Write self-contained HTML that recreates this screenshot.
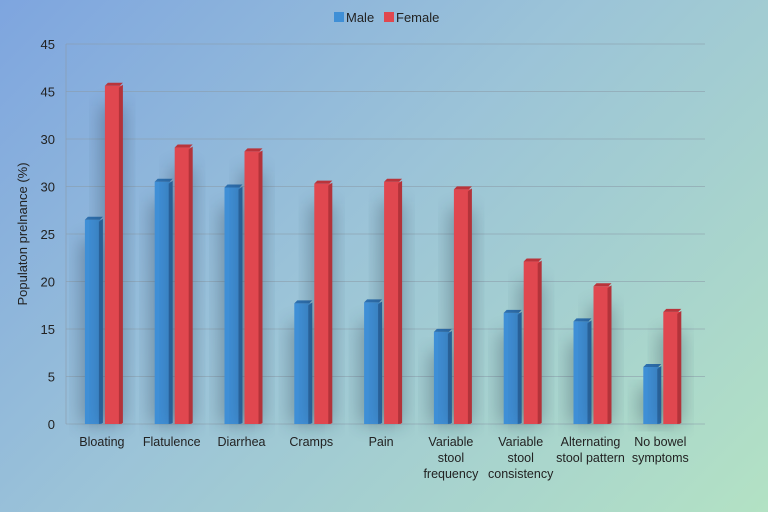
<!DOCTYPE html>
<html><head><meta charset="utf-8"><style>
body{margin:0;width:768px;height:512px;overflow:hidden;font-family:"Liberation Sans",sans-serif}
#bg{position:absolute;left:0;top:0;width:768px;height:512px;background:linear-gradient(135deg,#7ea5df 0%,#9bc3d8 45%,#b3e2c4 100%)}
svg{position:absolute;left:0;top:0}
</style></head><body>
<div id="bg"></div>
<svg id="c" width="768" height="512">
<defs><filter id="blur" x="-50%" y="-20%" width="200%" height="140%"><feGaussianBlur stdDeviation="9"/></filter></defs>
</svg>
<script>
const categories=[["Bloating"],["Flatulence"],["Diarrhea"],["Cramps"],["Pain"],["Variable","stool","frequency"],["Variable","stool","consistency"],["Alternating","stool pattern"],["No bowel","symptoms"]];
const maleValues=[21.5,25.5,24.9,12.7,12.8,9.7,11.7,10.8,6.0];
const femaleValues=[35.6,29.1,28.7,25.3,25.5,24.7,17.1,14.5,11.8];
const tickValues=[0,5,10,15,20,25,30,35,40];
const tickLabels=["0","5","15","20","25","30","30","45","45"];
const svg=document.getElementById('c');
const NS='http://www.w3.org/2000/svg';
const x0=66,x1=705,y0=424,yTop=44,yMax=40,step=69.8;
const y=v=>y0-(v/yMax)*(y0-yTop);
const xc=i=>x0+step*(i+0.5)+3;
function mk(t,a,p){const e=document.createElementNS(NS,t);for(const k in a)e.setAttribute(k,a[k]);(p||svg).appendChild(e);return e;}
const grid=mk('g',{});


tickValues.forEach((v,i)=>{
  const l=mk('line',{x1:x0,x2:x1,y1:y(v),y2:y(v),stroke:'#8a9aa8','stroke-opacity':0.55,'stroke-width':1},grid);
  
  
  const t=mk('text',{x:55,y:y(v)+5,'text-anchor':'end','font-size':13,fill:'#222'},grid);
  t.textContent=tickLabels[i];
  
  
});
const ax=mk('line',{x1:x0,x2:x0,y1:yTop,y2:y0,stroke:'#8a9aa8','stroke-opacity':0.6},grid);


const yt=mk('text',{x:27,y:234,'text-anchor':'middle','font-size':13,fill:'#222',transform:'rotate(-90 27 234)'});
yt.textContent='Populaton prelnance (%)';


const bw=17;
function bar(x,v,face,side,top,name){
  const g=mk('g',{});
  
  
  const yy=y(v);
  mk('rect',{x:x-4,y:yy+20,width:bw+6,height:y0-yy-20,fill:'#234',opacity:0.35,filter:'url(#blur)'},g);
  mk('rect',{x:x,y:yy,width:bw,height:y0-yy,fill:face},g);
  mk('polygon',{points:`${x+bw-3},${yy+2} ${x+bw+1},${yy-1} ${x+bw+1},${y0-1} ${x+bw-3},${y0}`,fill:side},g);
  mk('polygon',{points:`${x},${yy} ${x+3},${yy-3} ${x+bw+1},${yy-3} ${x+bw-2},${yy}`,fill:top},g);
}
categories.forEach((c,i)=>{
  const cx=xc(i);
  bar(cx-19,maleValues[i],'#3f8fd6','#2a6aa8','#2d6fae','bar-male-'+i);
  bar(cx+1,femaleValues[i],'#e0474f','#b3333a','#b9343b','bar-female-'+i);
  const t=mk('text',{x:cx-2,y:446,'text-anchor':'middle','font-size':12.5,fill:'#222'});
  
  
  c.forEach((ln,j)=>{const s=mk('tspan',{x:cx-2,dy:j?16:0},t);s.textContent=ln;});
});
const lg=mk('g',{});


[['Male','#3f8fd6',334],['Female','#e0474f',384]].forEach(([n,c,x])=>{
  const e=mk('g',{},lg);
  
  
  mk('rect',{x:x,y:12,width:10,height:10,fill:c},e);
  const t=mk('text',{x:x+12,y:22,'font-size':13,fill:'#222'},e);t.textContent=n;
});
</script>
</body></html>
